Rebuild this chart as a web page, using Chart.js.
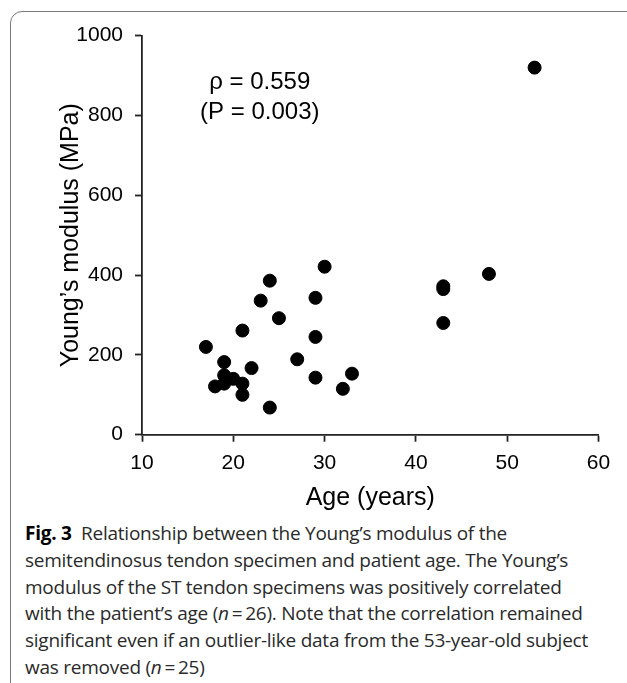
<!DOCTYPE html>
<html>
<head>
<meta charset="utf-8">
<script src="https://cdn.jsdelivr.net/npm/chart.js@4"></script>
<style>
  html, body { margin: 0; padding: 0; background: #fff; overflow: hidden; }
  #wrap { position: relative; width: 627px; height: 683px; overflow: hidden; }
  #frame {
    position: absolute; left: 10px; top: 11px; width: 700px; height: 800px;
    border: 1.5px solid #7a7a7a; border-radius: 12px; box-sizing: border-box;
  }
  #chart { position: absolute; left: 0; top: 0; }
  #caption {
    position: absolute; left: 25px; top: 520px; width: 600px;
    font-family: "Open Sans", "Noto Sans", sans-serif; font-size: 19px;
    line-height: 26.8px; color: #2a2a2a; letter-spacing: -0.25px;
  }
  #caption b { color: #000; }
</style>
</head>
<body>
<div id="wrap">
  <div id="frame"></div>
  <canvas id="chart" width="627" height="520"></canvas>
  <div id="caption">
    <b>Fig. 3</b>&nbsp; Relationship between the Young’s modulus of the<br>
    semitendinosus tendon specimen and patient age. The Young’s<br>
    modulus of the ST tendon specimens was positively correlated<br>
    with the patient’s age (<i>n</i>&thinsp;=&thinsp;26). Note that the correlation remained<br>
    significant even if an outlier-like data from the 53-year-old subject<br>
    was removed (<i>n</i>&thinsp;=&thinsp;25)
  </div>
</div>
<script>
const ages = [17, 18, 19, 19, 19, 20, 21, 21, 21, 22, 23, 24, 24, 25, 27, 29, 29, 29, 30, 32, 33, 43, 43, 43, 48, 53];
const moduli = [220, 121, 182, 149, 128, 140, 261, 128, 100, 167, 336, 386, 68, 292, 189, 343, 245, 143, 421, 115, 153, 372, 365, 280, 403, 920];
const xTicks = [10, 20, 30, 40, 50, 60];
const yTicks = [0, 200, 400, 600, 800, 1000];
const noteLines = ['ρ = 0.559', '(P = 0.003)'];
const noteAt = [22.9, 884];

const points = ages.map((a, i) => ({ x: a, y: moduli[i] }));

// draws the correlation note inside the plot
const annotation = {
    id: 'annotation',
    afterDatasetsDraw(chart) {
        const { ctx, scales: { x, y } } = chart;
        ctx.save();
        ctx.font = '24px "Liberation Sans", Arial, sans-serif';
        ctx.fillStyle = '#000';
        ctx.textAlign = 'center';
        ctx.textBaseline = 'middle';
        noteLines.forEach((t, i) => {
            ctx.fillText(t, x.getPixelForValue(noteAt[0]), y.getPixelForValue(noteAt[1]) + i * 30);
        });
        ctx.restore();
    }
};

const tickFont = { family: '"Liberation Sans", Arial, sans-serif', size: 21 };
const titleFont = { family: '"Liberation Sans", Arial, sans-serif', size: 25 };

new Chart(document.getElementById('chart').getContext('2d'), {
    type: 'scatter',
    data: {
        datasets: [{
            data: points,
            backgroundColor: '#000',
            borderColor: '#000',
            pointRadius: 6.5,
            pointHoverRadius: 6.5
        }]
    },
    options: {
        responsive: false,
        animation: false,
        layout: { padding: { top: 35.7, right: 28.5, left: 0, bottom: 0 } },
        plugins: { legend: { display: false }, tooltip: { enabled: false } },
        scales: {
            x: {
                type: 'linear',
                min: 10, max: 60,
                afterBuildTicks: s => { s.ticks = xTicks.map(v => ({ value: v })); },
                afterFit: s => { s.height = 85.3; },
                grid: { drawOnChartArea: false, tickLength: 7, tickColor: '#222', tickWidth: 1.8 },
                border: { color: '#222', width: 1.8 },
                ticks: { color: '#000', font: tickFont, padding: 9, maxRotation: 0, callback: v => String(v) },
                title: { display: true, text: 'Age (years)', color: '#000', font: titleFont, padding: { bottom: 7 } }
            },
            y: {
                type: 'linear',
                min: 0, max: 1000,
                afterBuildTicks: s => { s.ticks = yTicks.map(v => ({ value: v })); },
                afterFit: s => { s.width = 142; },
                grid: { drawOnChartArea: false, tickLength: 7, tickColor: '#222', tickWidth: 1.8 },
                border: { color: '#222', width: 1.8 },
                ticks: { color: '#000', font: tickFont, padding: 12, callback: v => String(v) },
                title: { display: true, text: 'Young’s modulus (MPa)', color: '#000', font: titleFont, padding: { top: 56 } }
            }
        }
    },
    plugins: [annotation]
});
</script>
</body>
</html>
